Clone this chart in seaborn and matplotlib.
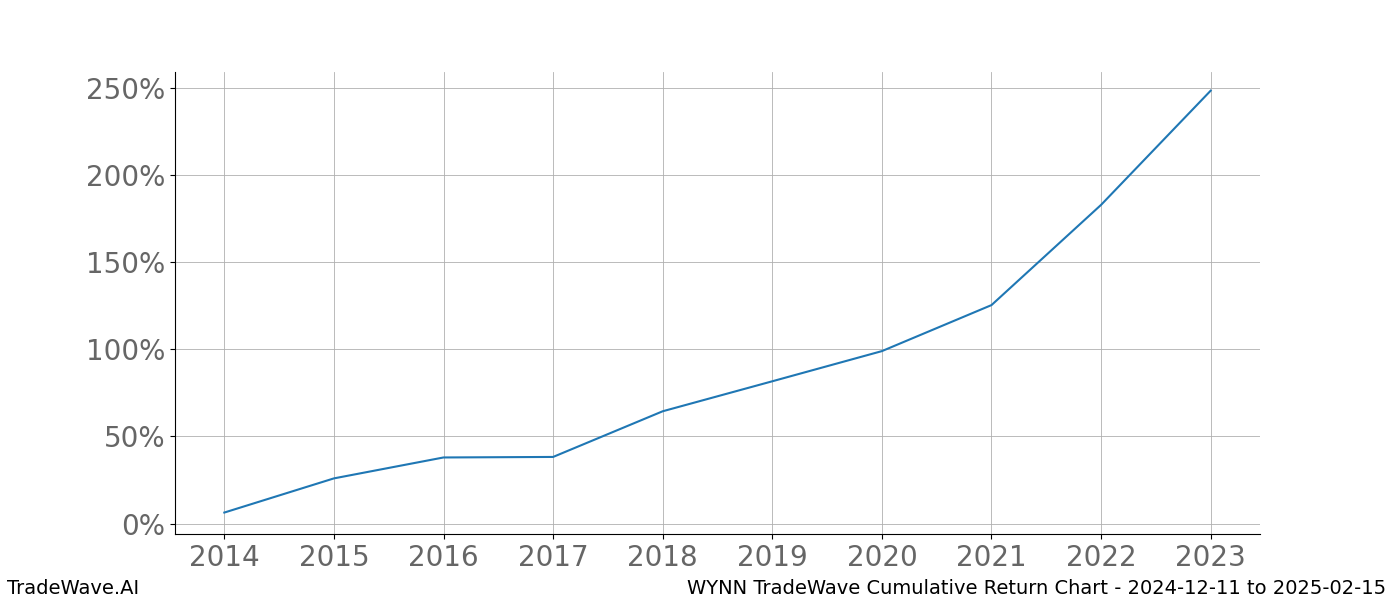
import matplotlib
matplotlib.use("Agg")
import matplotlib.pyplot as plt
import seaborn as sns
import pandas as pd
from matplotlib.ticker import FuncFormatter

years = [2014, 2015, 2016, 2017, 2018, 2019, 2020, 2021, 2022, 2023]
returns = [6.3, 25.9, 37.9, 38.2, 64.4, 81.6, 98.9, 125.3, 182.8, 248.3]
df = pd.DataFrame({"year": years, "ret": returns})

fig = plt.figure(figsize=(14, 6), dpi=100)
ax = fig.add_axes([0.125, 0.11, 0.775, 0.77])
sns.lineplot(data=df, x="year", y="ret", ax=ax, color="#1f77b4", linewidth=1.5)
ax.set_xticks(years)
ax.set_yticks([0, 50, 100, 150, 200, 250])
ax.yaxis.set_major_formatter(FuncFormatter(lambda v, p: f"{v:.0f}%"))
ax.set_ylim(-6, 259)
ax.set_xlim(2013.55, 2023.45)
ax.grid(True, color="#b0b0b0", linewidth=0.6)
ax.set_xlabel("")
ax.set_ylabel("")
ax.tick_params(labelsize=20, labelcolor="#666666")
ax.spines["top"].set_visible(False)
ax.spines["right"].set_visible(False)
fig.text(0.005, 0.01, "TradeWave.AI", fontsize=14)
fig.text(0.99, 0.01, "WYNN TradeWave Cumulative Return Chart - 2024-12-11 to 2025-02-15", fontsize=14, ha="right")
fig.savefig("out.png", dpi=100)
